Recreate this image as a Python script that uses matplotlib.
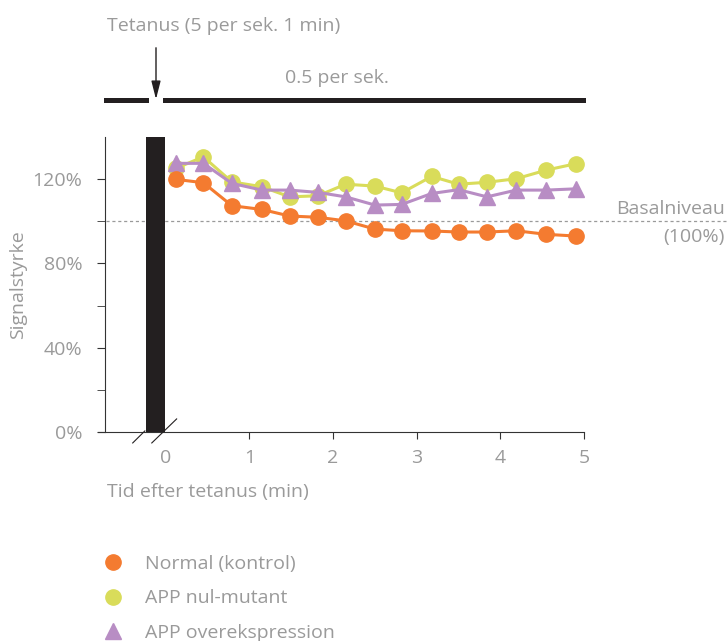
import matplotlib
matplotlib.use("Agg")
import matplotlib.pyplot as plt
from matplotlib.lines import Line2D

plt.rcParams['font.family'] = ['Open Sans', 'DejaVu Sans']

# data
tid = [0.12, 0.45, 0.79, 1.15, 1.48, 1.82, 2.15, 2.50, 2.82, 3.18, 3.50, 3.84, 4.19, 4.55, 4.90]
normal = [119.9, 118.3, 107.4, 105.6, 102.5, 101.9, 100.2, 96.3, 95.5, 95.4, 94.9, 94.9, 95.5, 93.8, 93.0]
nul_mutant = [125.1, 130.6, 118.7, 116.4, 111.6, 112.1, 117.6, 116.7, 113.5, 121.3, 117.6, 118.5, 120.2, 124.3, 127.3]
overeks = [127.5, 127.5, 118.0, 114.8, 114.8, 113.7, 111.6, 107.7, 108.0, 113.2, 115.0, 111.6, 114.8, 114.8, 115.4]
serier = ["Normal (kontrol)", "APP nul-mutant", "APP overekspression"]
y_ticks = [0, 40, 80, 120]
y_labels = ["0%", "40%", "80%", "120%"]
x_ticks = [0, 1, 2, 3, 4, 5]

orange = "#f47b30"
gul = "#d9dc5a"
lilla = "#b88dc4"
graa = "#9a9a9a"
sort = "#231f20"
fs = 14

fig = plt.figure(figsize=(7.28, 6.41), dpi=100)
ax = fig.add_axes([98/728, 1-432/641, (584-98)/728, 295/641])
ax.set_xlim(-0.81, 5.0)
ax.set_ylim(0, 140)

# tetanus bar
ax.bar(-0.125, 140, width=0.23, color=sort, zorder=3)

# basal level, from the y axis to the right edge
ax.plot([-0.72, 6.75], [100, 100], ls=(0, (2.5, 2.2)), color=graa, lw=0.9, clip_on=False, zorder=1)

ax.plot(tid, normal, '-o', color=orange, lw=2.2, ms=11, zorder=6)
ax.plot(tid, nul_mutant, '-o', color=gul, lw=2.2, ms=11, zorder=4)
ax.plot(tid, overeks, '-^', color=lilla, lw=2.2, ms=11, zorder=5)

for s in ['top', 'right']:
    ax.spines[s].set_visible(False)
ax.spines['left'].set_position(('data', -0.73))
ax.spines['left'].set_bounds(0, 140)
ax.spines['left'].set_color('#333333')
ax.spines['bottom'].set_color('#333333')

ax.set_yticks(y_ticks)
ax.set_yticklabels(y_labels)
ax.set_yticks([20, 60, 100], minor=True)
ax.tick_params(axis='y', which='both', direction='out', length=6, color='#333333',
               labelcolor=graa, labelsize=fs, pad=10)
ax.set_xticks(x_ticks)
ax.tick_params(axis='x', direction='out', length=5, color='#333333',
               labelcolor=graa, labelsize=fs, pad=7)
ax.xaxis.get_major_ticks()[0].tick1line.set_visible(False)

# axis break marks
ax.plot([-0.395, -0.25], [-5.2, 0.5], color=sort, lw=0.8, clip_on=False, zorder=7)
ax.plot([-0.167, 0.13], [-5.2, 6.2], color=sort, lw=0.8, clip_on=False, zorder=7)

fig.text(18/728, 1-285/641, "Signalstyrke", rotation=90, color=graa, fontsize=fs,
         ha='center', va='center')
fig.text(107/728, 1-492/641, "Tid efter tetanus (min)", color=graa, fontsize=fs,
         ha='left', va='center')
fig.text(725/728, 1-209/641, "Basalniveau", color=graa, fontsize=fs, ha='right', va='center')
fig.text(725/728, 1-237/641, "(100%)", color=graa, fontsize=fs, ha='right', va='center')

# stimulation protocol on top
fig.text(107/728, 1-26/641, "Tetanus (5 per sek. 1 min)", color=graa, fontsize=fs,
         ha='left', va='center')
fig.text(337/728, 1-78/641, "0.5 per sek.", color=graa, fontsize=fs, ha='center', va='center')
fig.add_artist(Line2D([106/728, 146/728], [1-100/641, 1-100/641], color=sort, lw=3.6))
fig.add_artist(Line2D([165/728, 583/728], [1-100/641, 1-100/641], color=sort, lw=3.6))
ax.annotate("", xy=(156, 641-102), xytext=(156, 641-45), xycoords='figure pixels',
            textcoords='figure pixels',
            arrowprops=dict(arrowstyle='-|>,head_length=1.1,head_width=0.28', color=sort, lw=1.0))

handles = [Line2D([], [], ls='none', marker='o', color=orange, ms=11),
           Line2D([], [], ls='none', marker='o', color=gul, ms=11),
           Line2D([], [], ls='none', marker='^', color=lilla, ms=11)]
leg = fig.legend(handles, serier, loc='upper left', bbox_to_anchor=(93.5/728, 1-547/641),
                 frameon=False, fontsize=fs, labelspacing=0.85, handletextpad=1.05,
                 borderaxespad=0, handlelength=1.2)
for t in leg.get_texts():
    t.set_color(graa)

fig.savefig("out.png", dpi=100)
